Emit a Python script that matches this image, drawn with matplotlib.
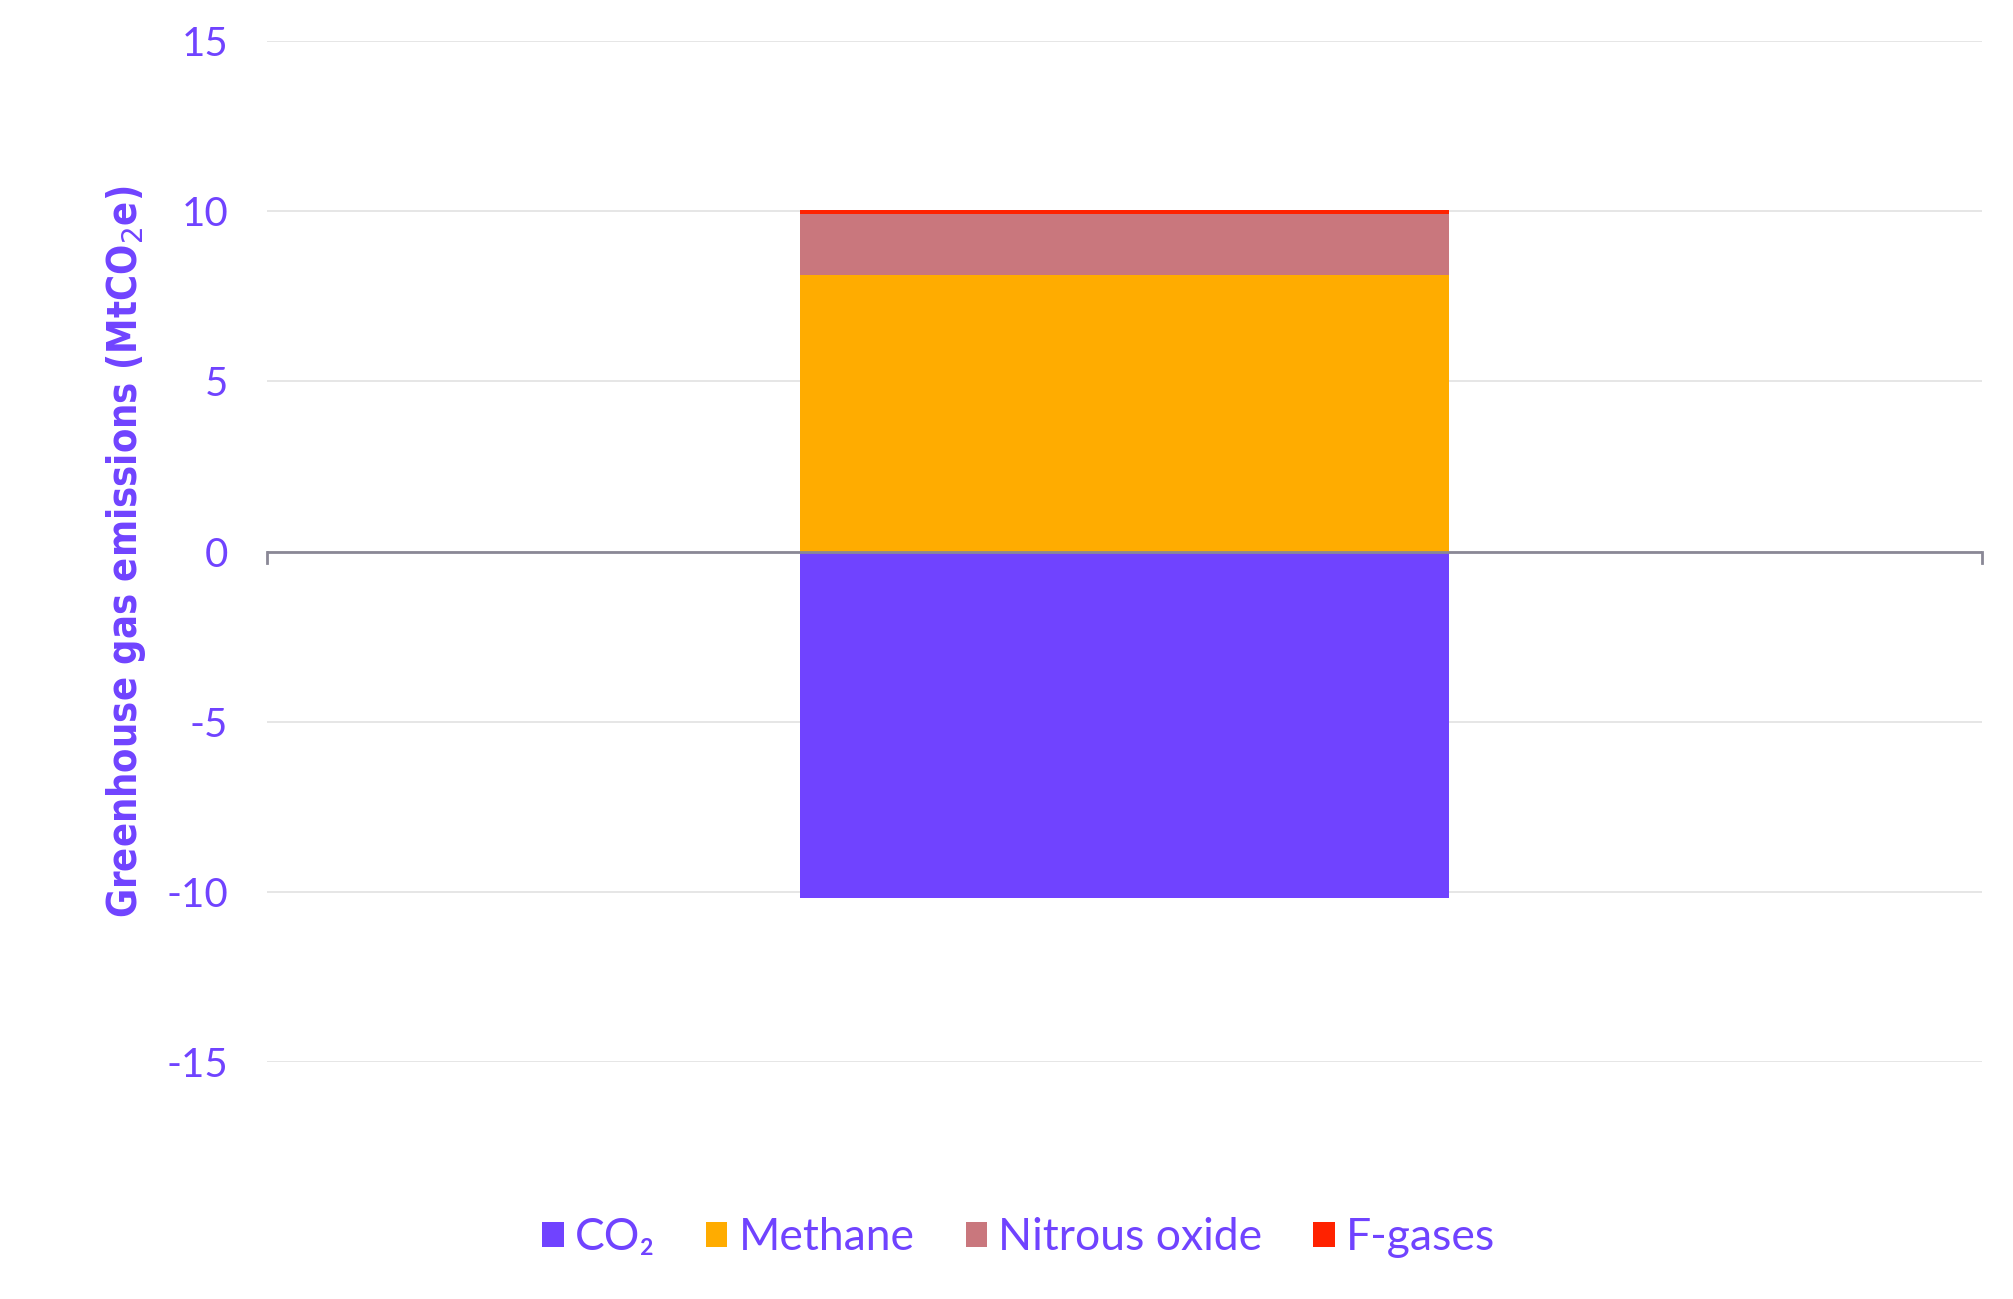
import matplotlib
matplotlib.use("Agg")
import matplotlib.pyplot as plt
from matplotlib.patches import Patch

categories = [""]
series_names = ["CO₂", "Methane", "Nitrous oxide", "F-gases"]
co2 = [-10.18]
methane = [8.14]
nitrous = [1.79]
fgases = [0.12]
colors = ["#7043FF", "#FFAC00", "#C9777D", "#FF2200"]
yticks = [-15, -10, -5, 0, 5, 10, 15]
ytick_labels = ["-15", "-10", "-5", "0", "5", "10", "15"]

txt = "#7043FF"
fam = ["Lato", "DejaVu Sans"]
plt.rcParams["font.family"] = fam

fig = plt.figure(figsize=(20.13, 12.99), dpi=100)
ax = fig.add_axes([0.1326, 0.1824, 0.852, 0.786])

x = list(range(len(categories)))
w = 0.378
ax.bar(x, co2, width=w, color=colors[0], zorder=2)
ax.bar(x, methane, width=w, color=colors[1], zorder=2)
b2 = [m for m in methane]
ax.bar(x, nitrous, width=w, bottom=b2, color=colors[2], zorder=2)
b3 = [m + n for m, n in zip(methane, nitrous)]
ax.bar(x, fgases, width=w, bottom=b3, color=colors[3], zorder=2)

ax.set_xlim(-0.5, 0.5)
ax.set_ylim(-15, 15)
ax.set_yticks(yticks)
ax.set_yticklabels(ytick_labels)
ax.set_xticks([])
ax.tick_params(axis="y", length=0, pad=28, labelsize=29, labelcolor=txt)
for s in ax.spines.values():
    s.set_visible(False)
ax.grid(axis="y", color="#e4e4e4", linewidth=1.3, zorder=0)
ax.set_axisbelow(True)

# zero axis line with end ticks
ax.axhline(0, color="#8a8896", linewidth=2, zorder=3)
ax.plot([-0.5, -0.5], [0, -0.35], color="#8a8896", linewidth=2, zorder=3, clip_on=False)
ax.plot([0.5, 0.5], [0, -0.35], color="#8a8896", linewidth=2, zorder=3, clip_on=False)

fig.text(0.0625, 0.5755, "Greenhouse gas emissions (MtCO$_2$e)", rotation=90,
         ha="center", va="center", fontsize=28.5, fontweight="bold",
         fontstretch="condensed", color=txt, family=["DejaVu Sans"])

handles = [Patch(facecolor=c, edgecolor="none") for c in colors]
leg = fig.legend(handles, series_names, loc="center", bbox_to_anchor=(0.506, 0.047),
                 ncol=4, frameon=False, handlelength=0.48, handleheight=0.48,
                 handletextpad=0.25, columnspacing=1.15,
                 prop={"family": fam, "size": 32})
for t in leg.get_texts():
    t.set_color(txt)

fig.savefig("out.png", dpi=100)
